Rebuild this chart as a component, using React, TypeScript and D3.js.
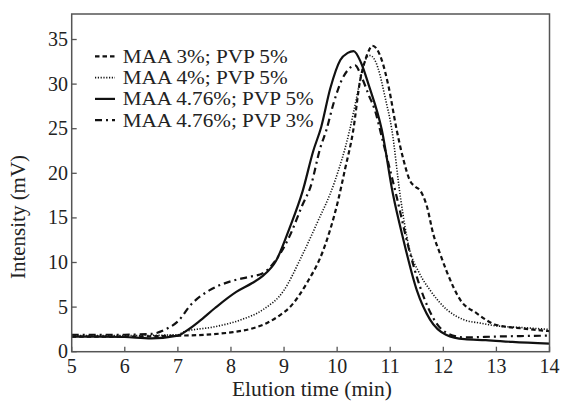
import React from "react";
import * as d3 from "d3";

// ---- data ----
const seriesNames = [
  "MAA 3%; PVP 5%",
  "MAA 4%; PVP 5%",
  "MAA 4.76%; PVP 5%",
  "MAA 4.76%; PVP 3%",
];

const tDashed = [5, 6, 7, 7.5, 8.04, 8.4, 8.67, 8.9, 9.11, 9.43, 9.74, 10.02, 10.15, 10.3, 10.43, 10.53, 10.6, 10.66, 10.74, 10.84, 10.97, 11.12, 11.25, 11.37, 11.47, 11.56, 11.69, 11.81, 11.95, 12.07, 12.32, 12.63, 13, 13.5, 14];
const vDashed = [1.7, 1.7, 1.8, 1.9, 2.2, 2.6, 3.2, 4.0, 5.0, 7.7, 11.4, 17, 20.5, 24.7, 30.3, 32.7, 33.8, 34.3, 34.0, 32.7, 29.7, 24.9, 21.5, 19.2, 18.5, 18.1, 16.3, 13.2, 10.8, 8.9, 5.8, 4.3, 3.0, 2.6, 2.3];

const tDotted = [5, 6, 7, 7.1, 7.7, 8.2, 8.6, 9.0, 9.3, 9.62, 9.95, 10.23, 10.37, 10.46, 10.55, 10.62, 10.7, 10.77, 10.9, 11.03, 11.19, 11.35, 11.55, 11.75, 12.07, 12.38, 12.7, 13, 13.5, 14];
const vDotted = [1.8, 1.8, 1.9, 2.2, 2.8, 3.6, 4.7, 6.9, 10.3, 14.4, 19.0, 24.7, 28.6, 31.2, 32.9, 33.2, 32.8, 31.8, 28.6, 24.9, 17.4, 11.8, 8.8, 6.9, 4.7, 3.6, 3.2, 2.9, 2.7, 2.5];

const tSolid = [5, 5.5, 6, 6.5, 7, 7.2, 7.4, 7.7, 8.1, 8.4, 8.6, 8.85, 9.1, 9.35, 9.55, 9.7, 9.87, 10.06, 10.2, 10.31, 10.45, 10.6, 10.84, 11.05, 11.25, 11.5, 11.75, 12.05, 12.4, 12.8, 13.3, 14];
const vSolid = [1.7, 1.7, 1.65, 1.5, 1.8, 2.5, 3.4, 4.9, 6.7, 7.7, 8.5, 10.2, 13.8, 18, 22.5, 25.2, 29.5, 32.7, 33.5, 33.7, 32.4, 29.8, 24.9, 17.7, 12.5, 6.9, 3.6, 1.9, 1.4, 1.3, 1.1, 0.9];

const tDashDot = [5, 6, 6.5, 6.8, 7, 7.25, 7.6, 8.0, 8.35, 8.6, 8.85, 9.1, 9.35, 9.5, 9.68, 9.8, 9.93, 10.09, 10.22, 10.34, 10.46, 10.6, 10.71, 10.84, 10.95, 11.12, 11.34, 11.56, 11.87, 12.1, 12.4, 13, 14];
const vDashDot = [1.9, 1.9, 2.0, 2.6, 3.4, 5.3, 6.9, 7.9, 8.4, 8.8, 10.3, 12.9, 16.5, 18.5, 22.8, 24.9, 27.8, 30.5, 31.7, 32.1, 30.8, 28.7, 27.1, 24.1, 21.5, 17.4, 11.8, 7.3, 3.2, 2.0, 1.6, 1.7, 1.8];

const xTicks = [5, 6, 7, 8, 9, 10, 11, 12, 13, 14];
const yTicks = [0, 5, 10, 15, 20, 25, 30, 35];
const xTitle = "Elution time (min)";
const yTitle = "Intensity (mV)";

// ---- styles ----
const styles = [
  { dash: "4.5,3", width: 2.2 },
  { dash: "1.2,1.6", width: 1.6 },
  { dash: "", width: 2.2 },
  { dash: "7,4,2,4", width: 2.2 },
];
const legendTextLen = [165, 165, 191, 191];

const W = 563;
const H = 403;
const left = 71.7;
const right = 549.5;
const top = 14;
const bottom = 351.7;
const FONT = "'Liberation Serif', 'Times New Roman', serif";

export default function App() {
  const x = d3.scaleLinear().domain([5, 14]).range([left, right]);
  const y = d3.scaleLinear().domain([0, 37.86]).range([bottom, top]);
  const line = d3
    .line<[number, number]>()
    .x((d) => x(d[0]))
    .y((d) => y(d[1]))
    .curve(d3.curveMonotoneX);

  const series = [
    d3.zip(tDashed, vDashed),
    d3.zip(tDotted, vDotted),
    d3.zip(tSolid, vSolid),
    d3.zip(tDashDot, vDashDot),
  ] as [number, number][][];

  const legendY = [56.3, 77.6, 98.9, 120.2];

  return (
    <svg
      width={W}
      height={H}
      style={{ position: "absolute", left: 0, top: 0, background: "#fff" }}
      fontFamily={FONT}
    >
      <rect x={0} y={0} width={W} height={H} fill="#fff" />
      {series.map((s, i) => (
        <path
          key={i}
          d={line(s) || ""}
          fill="none"
          stroke="#111"
          strokeWidth={styles[i].width}
          strokeDasharray={styles[i].dash || undefined}
          strokeLinejoin="round"
        />
      ))}
      {/* frame */}
      <rect
        x={left}
        y={top}
        width={right - left}
        height={bottom - top}
        fill="none"
        stroke="#555"
        strokeWidth={1.5}
      />
      {xTicks.map((t) => (
        <g key={"x" + t}>
          <line x1={x(t)} x2={x(t)} y1={bottom} y2={bottom - 5} stroke="#555" strokeWidth={1.3} />
          <text x={x(t)} y={373} fontSize={20} textAnchor="middle" fill="#222">
            {t}
          </text>
        </g>
      ))}
      {yTicks.map((t) => (
        <g key={"y" + t}>
          <line x1={left} x2={left + 5} y1={y(t)} y2={y(t)} stroke="#555" strokeWidth={1.3} />
          <text x={68} y={y(t) + 6.5} fontSize={20} textAnchor="end" fill="#222">
            {t}
          </text>
        </g>
      ))}
      <text x={312} y={396} fontSize={21.5} textAnchor="middle" fill="#222">
        {xTitle}
      </text>
      <text
        transform={`translate(25,217) rotate(-90)`}
        fontSize={21}
        textAnchor="middle"
        fill="#222"
      >
        {yTitle}
      </text>
      {seriesNames.map((n, i) => (
        <g key={n}>
          <line
            x1={95}
            x2={115}
            y1={legendY[i]}
            y2={legendY[i]}
            stroke="#111"
            strokeWidth={styles[i].width}
            strokeDasharray={styles[i].dash || undefined}
          />
          <text
            x={122.7}
            y={legendY[i] + 6.5}
            fontSize={19}
            textLength={legendTextLen[i]}
            lengthAdjust="spacingAndGlyphs"
            fill="#222"
          >
            {n}
          </text>
        </g>
      ))}
    </svg>
  );
}
